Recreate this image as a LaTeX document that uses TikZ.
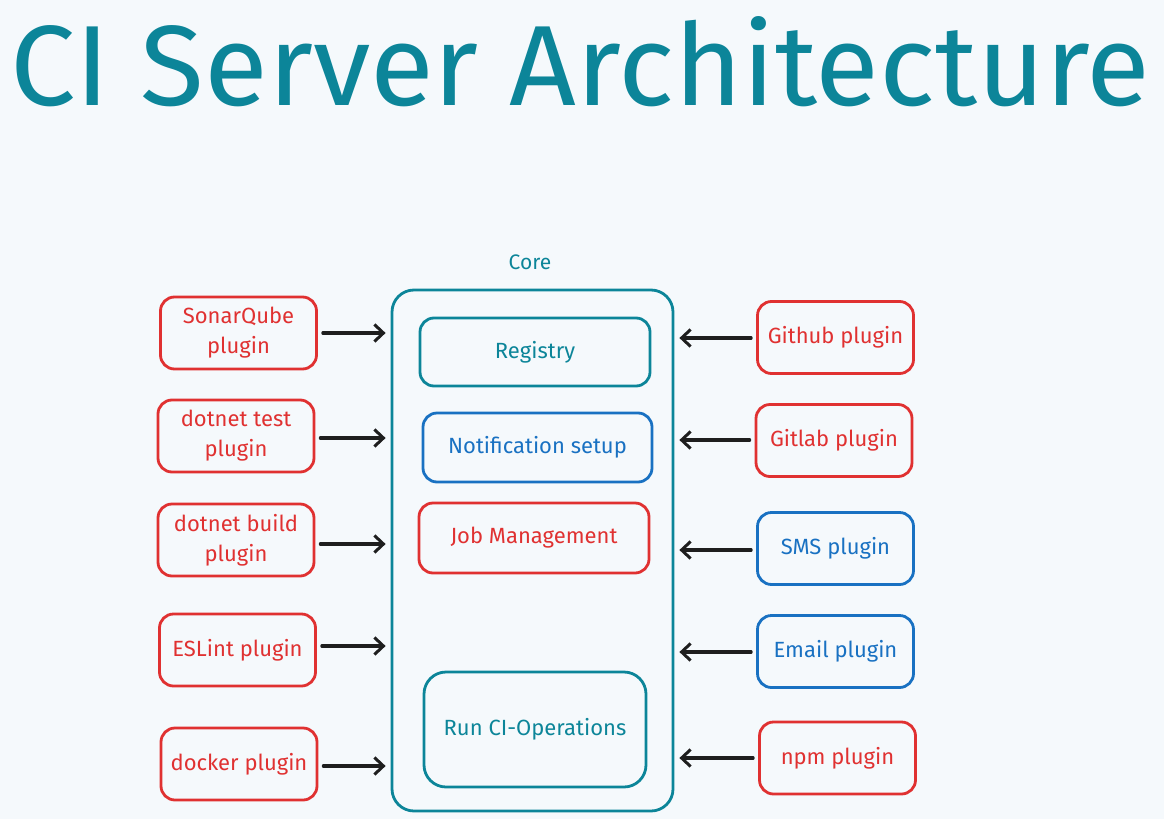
\documentclass[tikz,border=0pt]{standalone}
\usepackage{fontspec}
\setmainfont{Fira Sans}
\usetikzlibrary{arrows.meta,calc}
\definecolor{bgc}{HTML}{F5F9FC}
\definecolor{tealc}{HTML}{0C8599}
\definecolor{redc}{HTML}{E03131}
\definecolor{bluec}{HTML}{1971C2}
\definecolor{arrc}{HTML}{1E1E1E}
\tikzset{
  box/.style={draw, line width=2.8pt, rounded corners=14pt, align=center,
    font=\fontsize{22}{30}\selectfont, inner sep=2pt},
  plugbox/.style={box, minimum width=156pt, minimum height=72pt},
  redbox/.style={draw=redc, text=redc},
  bluebox/.style={draw=bluec, text=bluec},
  tealbox/.style={draw=tealc, text=tealc},
  conn/.style={draw=arrc, line width=3.2pt, line cap=round, shorten <=5pt, shorten >=5pt,
    -{Straight Barb[length=9pt,width=17pt,line width=3pt]}},
}
\begin{document}
\begin{tikzpicture}[x=1pt,y=-1pt]
\fill[bgc] (0,0) rectangle (1164,819);
\useasboundingbox (0,0) rectangle (1164,819);

% title
\node[anchor=south west, inner sep=0pt, text=tealc] (title) at (10,107)
  {\resizebox{1140pt}{89pt}{\fontsize{100}{100}\selectfont CI Server Architecture}};

% core
\node[text=tealc, font=\fontsize{21}{24}\selectfont] (corelabel) at (530,262) {Core};
\node[box, tealbox, minimum width=281pt, minimum height=521pt, rounded corners=22pt] (core) at (532.5,550.5) {};

\node[box, tealbox, minimum width=230pt, minimum height=68pt] (registry) at (535,352) {Registry};
\node[box, bluebox, minimum width=229pt, minimum height=69pt] (notif) at (537.5,447.5) {Notification setup};
\node[box, redbox, minimum width=230pt, minimum height=70pt] (job) at (534,538) {Job Management};
\node[box, tealbox, minimum width=222pt, minimum height=115pt, rounded corners=22pt] (runci) at (535,729.5) {Run CI-Operations};

% left plugins
\node[plugbox, redbox] (sonar) at (238.5,333) {SonarQube\\plugin};
\node[plugbox, redbox] (dntest) at (236,436) {dotnet test\\plugin};
\node[plugbox, redbox] (dnbuild) at (236,540) {dotnet build\\plugin};
\node[plugbox, redbox] (eslint) at (237.5,650) {ESLint plugin};
\node[plugbox, redbox] (docker) at (239,764) {docker plugin};

% right plugins
\node[plugbox, redbox] (github) at (835.5,337.5) {Github plugin};
\node[plugbox, redbox] (gitlab) at (834,440.5) {Gitlab plugin};
\node[plugbox, bluebox] (sms) at (835.5,548.5) {SMS plugin};
\node[plugbox, bluebox] (email) at (835.5,651.5) {Email plugin};
\node[plugbox, redbox] (npm) at (837.5,758) {npm plugin};

% arrows left -> core
\foreach \n/\y in {sonar/333, dntest/438, dnbuild/544, eslint/646, docker/766}{
  \draw[conn] (\n.east |- 0,\y) -- (core.west |- 0,\y);
}
% arrows right -> core
\foreach \n/\y in {github/338, gitlab/440, sms/550, email/652, npm/758}{
  \draw[conn] (\n.west |- 0,\y) -- (core.east |- 0,\y);
}
\end{tikzpicture}
\end{document}
